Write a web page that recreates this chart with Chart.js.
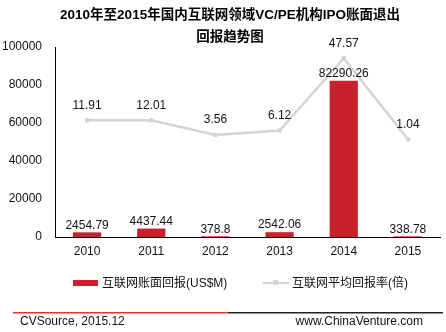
<!DOCTYPE html>
<html>
<head>
<meta charset="utf-8">
<script src="https://cdn.jsdelivr.net/npm/chart.js"></script>
<style>
  html, body { margin: 0; padding: 0; background: #fff; }
  #wrap { position: relative; width: 446px; height: 332px; }
</style>
</head>
<body>
<div id="wrap"><canvas id="myChart" width="446" height="332"></canvas></div>
<script>
// 年份
const years = ['2010', '2011', '2012', '2013', '2014', '2015'];
// 互联网账面回报(US$M)
const returnsUSD = [2454.79, 4437.44, 378.8, 2542.06, 82290.26, 338.78];
// 互联网平均回报率(倍)
const avgMultiple = [11.91, 12.01, 3.56, 6.12, 47.57, 1.04];
const yTicks = [0, 20000, 40000, 60000, 80000, 100000];

const titleLines = ['2010年至2015年国内互联网领域VC/PE机构IPO账面退出', '回报趋势图'];
const legendNames = ['互联网账面回报(US$M)', '互联网平均回报率(倍)'];
const sourceText = 'CVSource, 2015.12';
const siteText = 'www.ChinaVenture.com';

const RED = '#C9212B';
const GRAY = '#D2D4D7';
const FONT = '"Liberation Sans", Arial, "Noto Sans CJK SC", sans-serif';

// labels, title, legend and footer drawn straight on the canvas
const decorPlugin = {
  id: 'decor',
  afterDatasetsDraw(chart) {
    const ctx = chart.ctx;
    ctx.save();
    ctx.fillStyle = '#111';
    ctx.textAlign = 'center';
    ctx.font = '12px ' + FONT;
    ctx.textBaseline = 'middle';
    chart.getDatasetMeta(1).data.forEach((bar, i) => {
      ctx.fillText(String(returnsUSD[i]), bar.x, bar.y - 7);
    });
    chart.getDatasetMeta(0).data.forEach((pt, i) => {
      ctx.fillText(avgMultiple[i].toFixed(2), pt.x, pt.y - 15);
    });

    // title
    ctx.font = 'bold 13.5px ' + FONT;
    ctx.fillStyle = '#000';
    ctx.fillText(titleLines[0], 230, 15);
    ctx.fillText(titleLines[1], 230, 37);

    // legend
    ctx.font = '12px ' + FONT;
    ctx.textAlign = 'left';
    ctx.fillStyle = RED;
    ctx.fillRect(73, 280, 25, 6);
    ctx.fillStyle = '#111';
    ctx.fillText(legendNames[0], 102, 284);
    ctx.strokeStyle = GRAY;
    ctx.lineWidth = 2;
    ctx.beginPath();
    ctx.moveTo(263, 283);
    ctx.lineTo(289, 283);
    ctx.stroke();
    ctx.fillStyle = GRAY;
    ctx.fillRect(273, 280, 5, 5);
    ctx.fillStyle = '#111';
    ctx.fillText(legendNames[1], 292, 284);

    // footer
    ctx.fillStyle = '#E8312F';
    ctx.fillRect(13, 312, 215, 1.5);
    ctx.fillStyle = '#222';
    ctx.fillRect(228, 312, 215, 1.5);
    ctx.fillStyle = '#111';
    ctx.fillText(sourceText, 20, 322);
    ctx.textAlign = 'right';
    ctx.fillText(siteText, 423, 322);
    ctx.restore();
  }
};

new Chart(document.getElementById('myChart'), {
  data: {
    labels: years,
    datasets: [
      {
        type: 'line',
        label: legendNames[1],
        data: avgMultiple,
        yAxisID: 'y2',
        borderColor: GRAY,
        backgroundColor: GRAY,
        borderWidth: 2.5,
        pointStyle: 'rect',
        pointRadius: 3,
        pointBorderWidth: 0,
        tension: 0,
        order: 0
      },
      {
        type: 'bar',
        label: legendNames[0],
        data: returnsUSD,
        yAxisID: 'y',
        backgroundColor: RED,
        barPercentage: 0.44,
        categoryPercentage: 1,
        order: 1
      }
    ]
  },
  options: {
    responsive: false,
    animation: false,
    layout: { padding: { top: 47, right: 6, bottom: 70, left: 0 } },
    plugins: {
      legend: { display: false },
      title: { display: false },
      tooltip: { enabled: false }
    },
    scales: {
      x: {
        grid: { display: false, drawTicks: false },
        border: { color: '#000', width: 1 },
        ticks: { color: '#111', font: { family: FONT, size: 12 }, padding: 7 },
        afterFit(scale) { scale.height = 25; }
      },
      y: {
        position: 'left',
        min: 0,
        max: 100000,
        grid: { display: false, drawTicks: false },
        border: { color: '#000', width: 1 },
        afterBuildTicks(scale) { scale.ticks = yTicks.map(v => ({ value: v })); },
        ticks: {
          color: '#111',
          font: { family: FONT, size: 12 },
          padding: 13,
          callback: v => String(v)
        },
        afterFit(scale) { scale.width = 55; }
      },
      y2: {
        position: 'right',
        display: false,
        min: -55,
        max: 54
      }
    }
  },
  plugins: [decorPlugin]
});
</script>
</body>
</html>
